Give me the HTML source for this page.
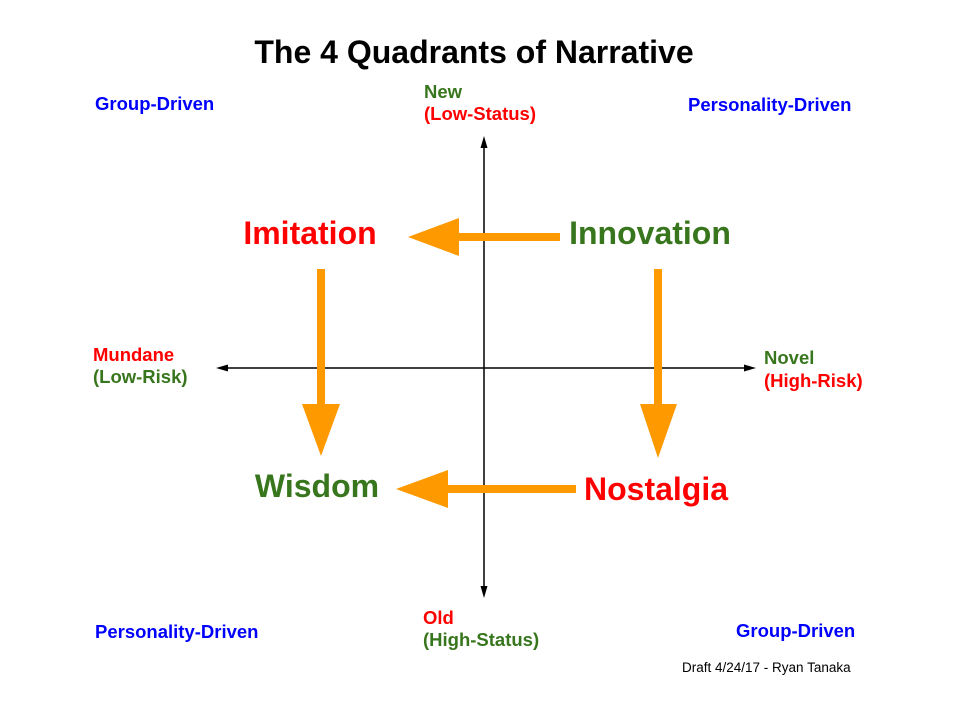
<!DOCTYPE html>
<html><head><style>
html,body{margin:0;padding:0;background:#fff}
svg{display:block}
text{font-family:"Liberation Sans",Arial,sans-serif;font-weight:bold}
</style></head><body>
<svg width="960" height="720" viewBox="0 0 960 720" xmlns="http://www.w3.org/2000/svg">
<rect width="960" height="720" fill="#fff"/>
<text x="474" y="63" font-size="32" text-anchor="middle" fill="#000">The 4 Quadrants of Narrative</text>
<line x1="484" y1="142" x2="484" y2="592" stroke="#000" stroke-width="1.5"/>
<polygon points="484,136 480.5,148 487.5,148" fill="#000"/>
<polygon points="484,598 480.5,586 487.5,586" fill="#000"/>
<line x1="222" y1="368" x2="750" y2="368" stroke="#000" stroke-width="1.5"/>
<polygon points="216,368 228,364.5 228,371.5" fill="#000"/>
<polygon points="756,368 744,364.5 744,371.5" fill="#000"/>
<g fill="#FF9900">
<rect x="458" y="233" width="102" height="8"/>
<polygon points="408,237 459,218 459,256"/>
<rect x="317" y="269" width="8" height="137"/>
<polygon points="321,456 302,404 340,404"/>
<rect x="654" y="269" width="8" height="137"/>
<polygon points="658,458 640,404 677,404"/>
<rect x="446" y="485" width="130" height="8"/>
<polygon points="396,489 448,470 448,508"/>
</g>
<text x="310" y="244" font-size="32" text-anchor="middle" fill="#FF0000">Imitation</text>
<text x="650" y="244" font-size="32" text-anchor="middle" fill="#38761D">Innovation</text>
<text x="317" y="497" font-size="32" text-anchor="middle" fill="#38761D">Wisdom</text>
<text x="656" y="500" font-size="32" text-anchor="middle" fill="#FF0000">Nostalgia</text>
<g font-size="18.5" fill="#0000FF">
<text x="95" y="110">Group-Driven</text>
<text x="688" y="111">Personality-Driven</text>
<text x="95" y="638">Personality-Driven</text>
<text x="736" y="637">Group-Driven</text>
</g>
<g font-size="18.5">
<text x="424" y="98" fill="#38761D">New</text>
<text x="424" y="120" fill="#FF0000">(Low-Status)</text>
<text x="423" y="624" fill="#FF0000">Old</text>
<text x="423" y="646" fill="#38761D">(High-Status)</text>
<text x="93" y="361" fill="#FF0000">Mundane</text>
<text x="93" y="383" fill="#38761D">(Low-Risk)</text>
<text x="764" y="364" fill="#38761D">Novel</text>
<text x="764" y="387" fill="#FF0000">(High-Risk)</text>
</g>
<text x="682" y="672" font-size="13.5" style="font-weight:normal" fill="#000">Draft 4/24/17 - Ryan Tanaka</text>
</svg>
</body></html>
